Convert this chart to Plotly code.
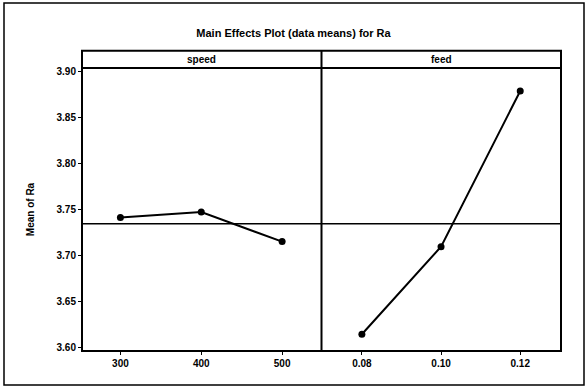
import plotly.graph_objects as go
from plotly.subplots import make_subplots

# Data
speed_levels = [300, 400, 500]
speed_means = [3.7416, 3.7475, 3.7155]
feed_levels = [0.08, 0.10, 0.12]
feed_means = [3.6149, 3.7100, 3.8790]
y_ticks = [3.60, 3.65, 3.70, 3.75, 3.80, 3.85, 3.90]
speed_ticklabels = ["300", "400", "500"]
feed_ticklabels = ["0.08", "0.10", "0.12"]
panel_names = ["speed", "feed"]

grand_mean = sum(speed_means) / len(speed_means)

W, H = 587, 389
L, R, T, B = 82, 26, 68, 38
pw, ph = W - L - R, H - T - B

def px_x(X):
    return (X - L) / pw

def px_y(Y):
    return (H - B - Y) / ph

FONT = "Liberation Sans"

def bold(s):
    return f"<b>{s}</b>"

fig = make_subplots(rows=1, cols=2, shared_yaxes=True, horizontal_spacing=0)

mk = dict(color="black", size=7, symbol="circle")
ln = dict(color="black", width=2)
fig.add_trace(go.Scatter(x=speed_levels, y=speed_means, mode="lines+markers",
                         marker=mk, line=ln, showlegend=False), row=1, col=1)
fig.add_trace(go.Scatter(x=feed_levels, y=feed_means, mode="lines+markers",
                         marker=mk, line=ln, showlegend=False), row=1, col=2)

yr = [3.5967, 3.904]
axfont = dict(family=FONT, size=10, color="black", weight="bold")
fig.update_yaxes(range=yr, tickvals=y_ticks, ticktext=[f"{v:.2f}" for v in y_ticks],
                 ticks="outside", ticklen=3, tickcolor="black", tickwidth=1,
                 showgrid=False, zeroline=False, showline=False,
                 tickfont=axfont)
fig.update_yaxes(title=dict(text="Mean of Ra",
                            font=dict(family=FONT, size=10, color="black", weight="bold"),
                            standoff=20), row=1, col=1)
fig.update_yaxes(ticks="", showticklabels=False, row=1, col=2)

fig.update_xaxes(range=[252.5, 548.7], tickvals=speed_levels,
                 ticktext=speed_ticklabels, row=1, col=1)
fig.update_xaxes(range=[0.0698, 0.1303], tickvals=feed_levels,
                 ticktext=feed_ticklabels, row=1, col=2)
fig.update_xaxes(ticks="outside", ticklen=3, tickcolor="black", tickwidth=1,
                 showgrid=False, zeroline=False, showline=False, tickfont=axfont)

shapes = []
# plot frame (both panels)
shapes.append(dict(type="rect", xref="paper", yref="paper", x0=0, x1=1, y0=0, y1=1,
                   line=dict(color="black", width=2)))
# divider through plot and strip
s_top = px_y(50.7)
shapes.append(dict(type="line", xref="paper", yref="paper", x0=0.5, x1=0.5, y0=0, y1=s_top,
                   line=dict(color="black", width=2)))
# strip
shapes.append(dict(type="rect", xref="paper", yref="paper", x0=0, x1=1, y0=1, y1=s_top,
                   line=dict(color="black", width=2)))
# reference line at grand mean
shapes.append(dict(type="line", xref="paper", yref="y", x0=0, x1=1, y0=grand_mean, y1=grand_mean,
                   line=dict(color="black", width=1.3)))
# outer frame
shapes.append(dict(type="rect", xref="paper", yref="paper",
                   x0=px_x(4), x1=px_x(584), y0=px_y(385), y1=px_y(3),
                   line=dict(color="black", width=1.5)))

annotations = []
for i, name in enumerate(panel_names):
    annotations.append(dict(text=name, xref="paper", yref="paper",
                            x=0.25 + 0.5 * i, y=(1 + s_top) / 2, showarrow=False,
                            xanchor="center", yanchor="middle",
                            font=dict(family=FONT, size=10, color="black", weight="bold")))

fig.update_layout(
    width=W, height=H,
    margin=dict(l=L, r=R, t=T, b=B),
    paper_bgcolor="white", plot_bgcolor="white",
    title=dict(text="Main Effects Plot (data means) for Ra", x=0.5, xanchor="center",
               y=1 - 33 / H, yanchor="middle",
               font=dict(family=FONT, size=11, color="black", weight="bold")),
    shapes=shapes, annotations=annotations,
)

fig.write_html("out.html")
